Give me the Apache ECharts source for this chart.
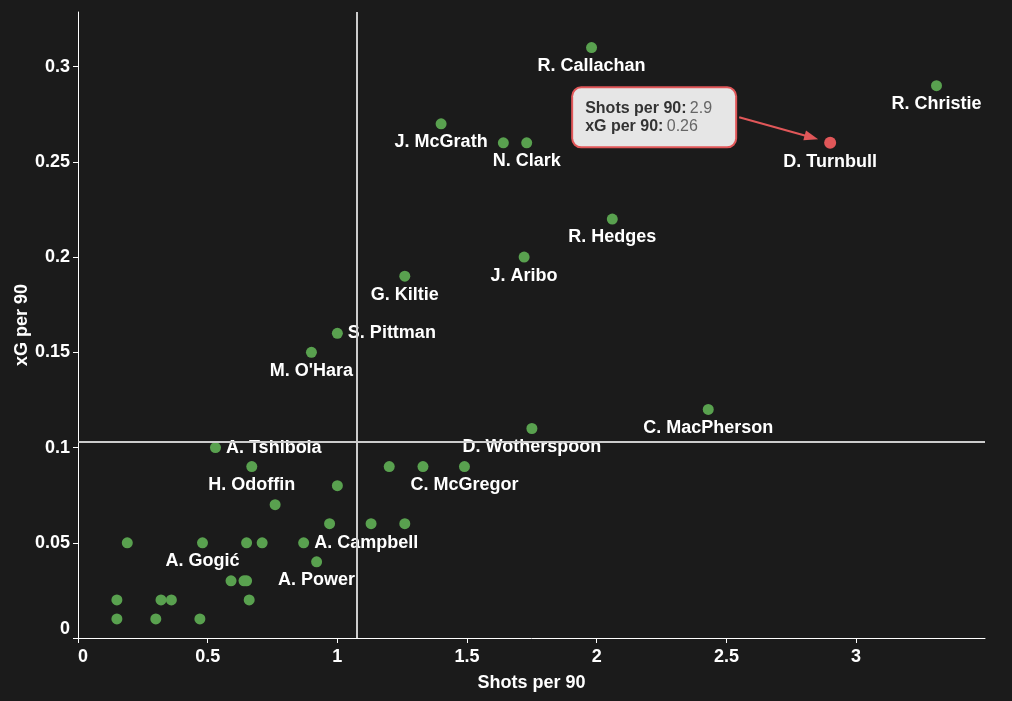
<!DOCTYPE html>
<html><head><meta charset="utf-8">
<script src="https://cdn.jsdelivr.net/npm/echarts@6/dist/echarts.min.js"></script>
<style>html,body{margin:0;padding:0;background:#1b1b1b}#c{width:1012px;height:701px}</style>
</head><body><div id="c"></div>
<script>
// ---- data ----
const players = ['R. Callachan','R. Christie','J. McGrath','','N. Clark','R. Hedges','J. Aribo','G. Kiltie','S. Pittman',"M. O'Hara",
  'C. MacPherson','D. Wotherspoon','A. Tshibola','H. Odoffin','','','C. McGregor','','','',
  '','','','A. Gogić','','','A. Campbell','A. Power','','',
  '','','','','','','','','D. Turnbull'];
const shotsPer90 = [1.98,3.31,1.40,1.64,1.73,2.06,1.72,1.26,1.00,0.90,
  2.43,1.75,0.53,0.67,1.20,1.33,1.49,1.00,0.76,0.97,
  1.13,1.26,0.19,0.48,0.65,0.71,0.87,0.92,0.59,0.64,
  0.65,0.15,0.32,0.36,0.66,0.15,0.30,0.47,2.90];
const xgPer90 = [0.31,0.29,0.27,0.26,0.26,0.22,0.20,0.19,0.16,0.15,
  0.12,0.11,0.10,0.09,0.09,0.09,0.09,0.08,0.07,0.06,
  0.06,0.06,0.05,0.05,0.05,0.05,0.05,0.04,0.03,0.03,
  0.03,0.02,0.02,0.02,0.02,0.01,0.01,0.01,0.26];
const xTicks = [0,0.5,1,1.5,2,2.5,3];
const yTicks = [0,0.05,0.1,0.15,0.2,0.25,0.3];
const avgShots = 1.075;
const avgXg = 0.1029;
const highlighted = 'D. Turnbull';
const rightLabeled = ['S. Pittman','A. Tshibola','A. Campbell'];

// ---- styling ----
const FONT = "'Liberation Sans', Arial, sans-serif";
const GREEN = '#59a14f', RED = '#e15759';

const others = [], hi = [];
players.forEach((n, i) => {
  const item = { name: n, value: [shotsPer90[i], xgPer90[i]] };
  if (n === highlighted) hi.push(item);
  else {
    if (rightLabeled.includes(n)) item.label = { position: 'right', distance: 5 };
    others.push(item);
  }
});

const nameLabel = {
  show: true, position: 'bottom', distance: 4,
  formatter: p => p.name,
  color: '#fff', fontSize: 18, fontWeight: 'bold', fontFamily: FONT
};

const chart = echarts.init(document.getElementById('c'), null, { renderer: 'canvas' });
const option = {
  backgroundColor: '#1b1b1b',
  animation: false,
  grid: { left: 78, right: 27, top: 12, bottom: 63, containLabel: false, outerBoundsMode: 'none' },
  xAxis: {
    type: 'value', min: 0, max: 3.497,
    name: 'Shots per 90', nameLocation: 'middle', nameGap: 36, nameMoveOverlap: false,
    nameTextStyle: { color: '#fff', fontSize: 18, fontWeight: 'bold', fontFamily: FONT },
    axisLine: { show: true, onZero: false, lineStyle: { color: '#fff', width: 1 } },
    axisTick: { show: true, length: 5, lineStyle: { color: '#fff' }, customValues: xTicks },
    axisLabel: { color: '#fff', fontSize: 18, fontWeight: 'bold', fontFamily: FONT, margin: 10,
      customValues: xTicks, alignMinLabel: 'left' },
    splitLine: { show: false }
  },
  yAxis: {
    type: 'value', min: 0, max: 0.3287,
    name: 'xG per 90', nameLocation: 'middle', nameGap: 47, nameMoveOverlap: false,
    nameTextStyle: { color: '#fff', fontSize: 18, fontWeight: 'bold', fontFamily: FONT },
    axisLine: { show: true, onZero: false, lineStyle: { color: '#fff', width: 1 } },
    axisTick: { show: true, length: 5, lineStyle: { color: '#fff' }, customValues: yTicks },
    axisLabel: { color: '#fff', fontSize: 18, fontWeight: 'bold', fontFamily: FONT, margin: 8,
      customValues: yTicks, verticalAlignMinLabel: 'bottom' },
    splitLine: { show: false }
  },
  series: [
    {
      type: 'scatter', data: others, symbolSize: 11,
      itemStyle: { color: GREEN, opacity: 1 },
      label: nameLabel,
      markLine: {
        silent: true, symbol: 'none', label: { show: false }, precision: 5,
        lineStyle: { color: '#cccccc', width: 2, type: 'solid' },
        data: [{ xAxis: avgShots }, { yAxis: avgXg }]
      },
      z: 3
    },
    {
      type: 'scatter', data: hi, symbolSize: 12,
      itemStyle: { color: RED, opacity: 1 },
      label: nameLabel, z: 4
    },
    {
      type: 'scatter', data: hi, symbolSize: 0, z: 6,
      itemStyle: { color: 'rgba(0,0,0,0)', opacity: 1 },
      label: {
        show: true, position: 'inside', align: 'left', verticalAlign: 'middle',
        offset: [-257, -25.5], opacity: 1,
        width: 138,
        backgroundColor: '#e6e6e6', borderColor: RED, borderWidth: 2, borderRadius: 8,
        padding: [11, 12, 11, 12],
        formatter: p => '{k|Shots per 90:} {v|' + p.value[0] + '}\n{k|xG per 90:} {v|' + p.value[1] + '}',
        rich: {
          k: { color: '#333', fontSize: 16, fontWeight: 'bold', fontFamily: FONT, lineHeight: 18 },
          v: { color: '#666', fontSize: 16, fontWeight: 'normal', fontFamily: FONT, lineHeight: 18 }
        }
      }
    }
  ]
};
chart.setOption(option);

// arrow from annotation box to highlighted point
const p = chart.convertToPixel({ gridIndex: 0 }, hi[0].value);
const sx = p[0] - 91, sy = p[1] - 25.5;
const ex = p[0] - 12, ey = p[1] - 3.7;
const dx = ex - sx, dy = ey - sy, L = Math.hypot(dx, dy);
const ux = dx / L, uy = dy / L;
const hl = 14, hw = 5;
const bx = ex - ux * hl, by = ey - uy * hl;
chart.setOption({
  graphic: [
    { type: 'line', z: 100, silent: true,
      shape: { x1: sx, y1: sy, x2: bx + ux * 2, y2: by + uy * 2 },
      style: { stroke: RED, lineWidth: 2 } },
    { type: 'polygon', z: 100, silent: true,
      shape: { points: [[ex, ey], [bx - uy * hw, by + ux * hw], [bx + uy * hw, by - ux * hw]] },
      style: { fill: RED } }
  ]
});
</script>
</body></html>
